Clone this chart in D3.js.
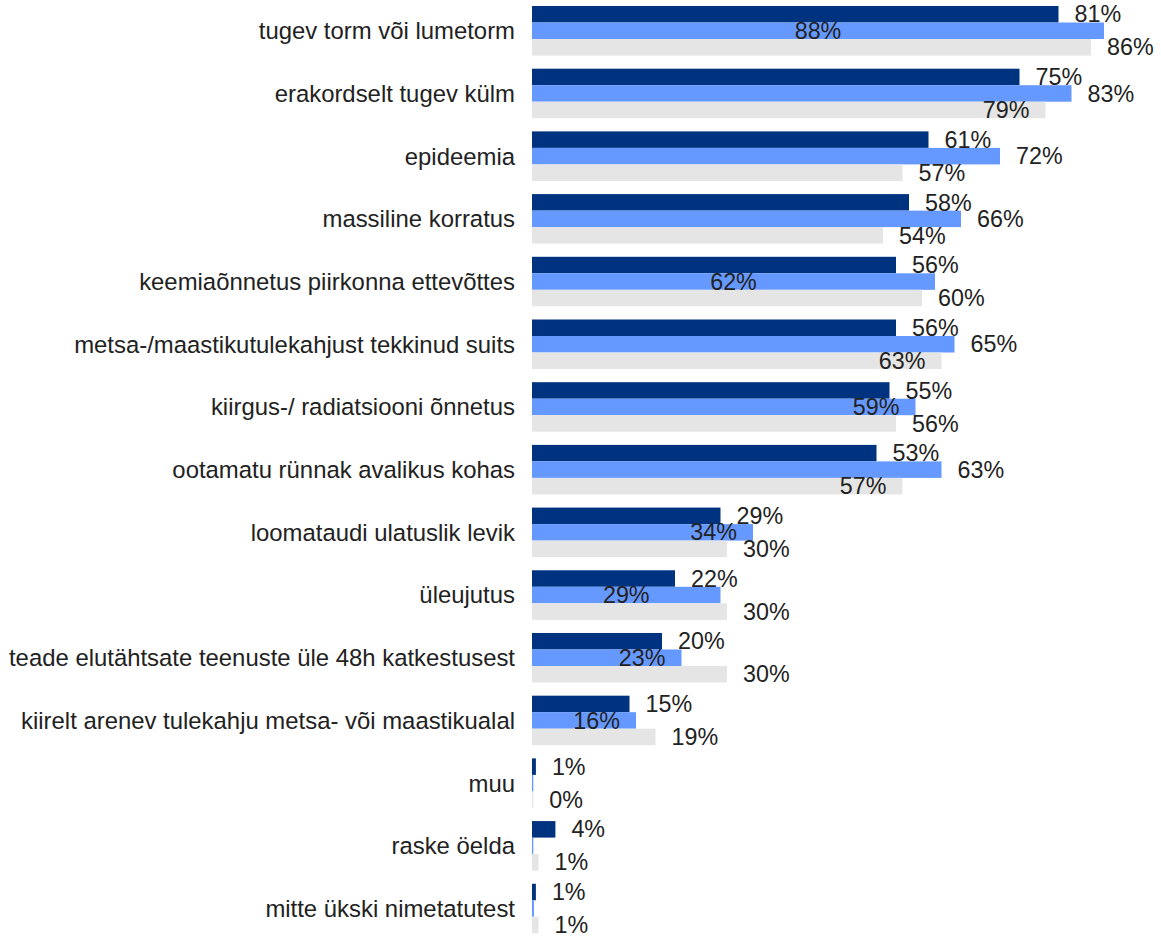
<!DOCTYPE html>
<html>
<head>
<meta charset="utf-8">
<script src="https://cdn.jsdelivr.net/npm/d3@7"></script>
<style>
  body { margin: 0; background: #fff; }
  text { font-family: "Liberation Sans", Arial, sans-serif; fill: #222; }
</style>
</head>
<body>
<svg width="1161" height="936"></svg>
<script>
var categories = [
  "tugev torm või lumetorm",
  "erakordselt tugev külm",
  "epideemia",
  "massiline korratus",
  "keemiaõnnetus piirkonna ettevõttes",
  "metsa-/maastikutulekahjust tekkinud suits",
  "kiirgus-/ radiatsiooni õnnetus",
  "ootamatu rünnak avalikus kohas",
  "loomataudi ulatuslik levik",
  "üleujutus",
  "teade elutähtsate teenuste üle 48h katkestusest",
  "kiirelt arenev tulekahju metsa- või maastikualal",
  "muu",
  "raske öelda",
  "mitte ükski nimetatutest"
];

// three survey waves, no legend in the picture
var series1 = [81, 75, 61, 58, 56, 56, 55, 53, 29, 22, 20, 15, 0.6, 3.6, 0.6];
var series2 = [88, 83, 72, 66, 62, 65, 59, 63, 34, 29, 23, 16, 0.2, 0.2, 0.3];
var series3 = [86, 79, 57, 54, 60, 63, 56, 57, 30, 30, 30, 19, 0.2, 1, 1];

var seriesNames = ["series1", "series2", "series3"];
var colors = ["#00337f", "#6699ff", "#e5e5e5"];

var svg = d3.select("svg"),
    catFont = 23.9,
    fontSize = 23.3,
    pad = 16;

var x = d3.scaleLinear().domain([0, 100]).range([532, 1182]);

var y = d3.scaleBand()
    .domain(categories)
    .range([6, 933.3])
    .paddingInner(0.21)
    .paddingOuter(0);

var ySub = d3.scaleBand()
    .domain(seriesNames)
    .range([0, y.bandwidth()]);

var data = categories.map(function(c, i) {
  return {
    cat: c,
    vals: [series1[i], series2[i], series3[i]].map(function(v, k) {
      return {key: seriesNames[k], value: v, color: colors[k]};
    })
  };
});

// category labels
svg.append("g")
  .selectAll("text")
  .data(categories)
  .enter().append("text")
    .attr("x", 515)
    .attr("y", function(d) { return y(d) + y.bandwidth() / 2; })
    .attr("dy", "0.35em")
    .attr("text-anchor", "end")
    .style("font-size", catFont + "px")
    .text(function(d) { return d; });

var groups = svg.append("g")
  .selectAll("g")
  .data(data)
  .enter().append("g")
    .attr("transform", function(d) { return "translate(0," + y(d.cat) + ")"; });

groups.selectAll("rect")
  .data(function(d) { return d.vals; })
  .enter().append("rect")
    .attr("x", x(0))
    .attr("y", function(d) { return ySub(d.key); })
    .attr("width", function(d) { return x(d.value) - x(0); })
    .attr("height", ySub.bandwidth())
    .attr("fill", function(d) { return d.color; });

// value labels: outside, else inside at the end, else centred, else hidden
var measure = svg.append("text").style("font-size", fontSize + "px");
function textWidth(s) {
  measure.text(s);
  return measure.node().getComputedTextLength();
}

var boxH = 18;
function overlaps(a, b) {
  var ox = Math.min(a.x1, b.x1) - Math.max(a.x0, b.x0);
  var oy = Math.min(a.y1, b.y1) - Math.max(a.y0, b.y0);
  return ox > 1 && oy > 0;
}

groups.each(function(g) {
  var placed = [];
  var sel = d3.select(this);
  g.vals.forEach(function(d) {
    var label = Math.round(d.value) + "%",
        w = textWidth(label),
        end = x(d.value),
        start = x(0),
        cy = ySub(d.key) + ySub.bandwidth() / 2;
    var candidates = [end + pad];
    if (end - pad - w >= start) candidates.push(end - pad - w);
    if (w + 4 <= end - start) candidates.push((start + end) / 2 - w / 2);
    var chosen = null;
    for (var i = 0; i < candidates.length && chosen === null; i++) {
      var box = {x0: candidates[i], x1: candidates[i] + w, y0: cy - boxH / 2, y1: cy + boxH / 2};
      var hit = placed.some(function(p) { return overlaps(box, p); });
      if (!hit) chosen = box;
    }
    if (chosen === null) return;
    placed.push(chosen);
    sel.append("text")
      .attr("x", chosen.x0)
      .attr("y", cy)
      .attr("dy", "0.35em")
      .style("font-size", fontSize + "px")
      .text(label);
  });
});

measure.remove();
</script>
</body>
</html>
